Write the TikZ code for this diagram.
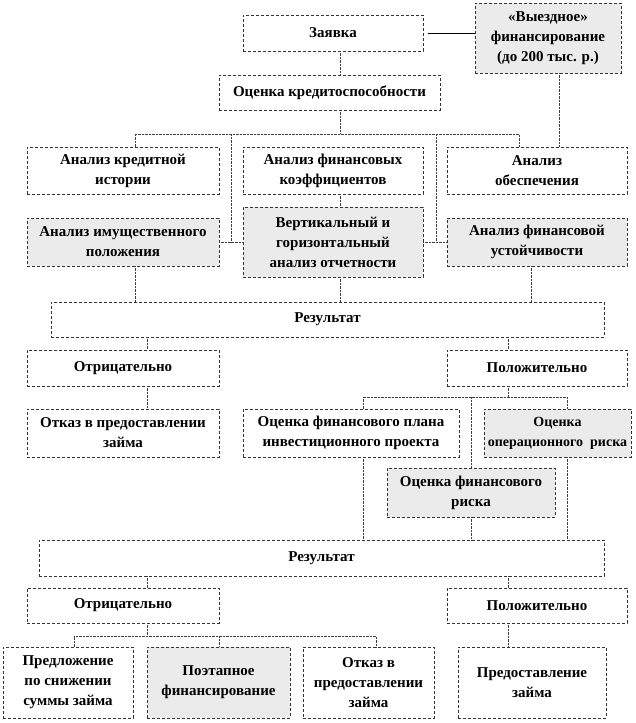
\documentclass[tikz,border=0pt]{standalone}
\usepackage{fontspec}
\setmainfont{Liberation Serif}
\usepackage{tikz}
\usetikzlibrary{positioning,calc}

\begin{document}
\begin{tikzpicture}[x=1pt,y=-1pt,
    blk/.style={draw=black!80, densely dashed, fill=white, align=center, inner sep=1pt,
        font=\fontsize{15}{20}\selectfont\bfseries},
    shd/.style={blk, fill=black!8},
    lnk/.style={densely dotted, black!75}]
    \useasboundingbox (0,0) rectangle (635,723);

    % vertical tracks and buses
    \coordinate (xa) at (135,0);  \coordinate (xb) at (231,0);
    \coordinate (xc) at (340,0);  \coordinate (xd) at (436,0);
    \coordinate (xe) at (519,0);  \coordinate (xf) at (559,0);
    \coordinate (xg) at (531,0);  \coordinate (xh) at (147,0);
    \coordinate (xi) at (508,0);  \coordinate (xj) at (363,0);
    \coordinate (xk) at (471,0);  \coordinate (xl) at (567,0);
    \coordinate (xm) at (74,0);   \coordinate (xn) at (219,0);
    \coordinate (xo) at (376,0);
    \coordinate (bus1) at (0,134);
    \coordinate (bus2) at (0,397);
    \coordinate (bus3) at (0,636);

    % first stage
    \node[blk, minimum width=180, minimum height=36] (zayavka) at (333,33) {Заявка};
    \node[shd, minimum width=146, minimum height=70] (vyezd) at (548,38)
        {«Выездное»\\финансирование\\(до 200 тыс. р.)};
    \node[blk, minimum width=221, minimum height=35] (ocenka) at (329.5,92.5) {Оценка кредитоспособности};

    \node[blk, minimum width=192, minimum height=47] (kred) at (123,170.5) {Анализ кредитной\\истории};
    \node[blk, minimum width=180, minimum height=47] (koef) at (333,170.5) {Анализ финансовых\\коэффициентов};
    \node[blk, minimum width=180, minimum height=47] (obesp) at (537,170.5) {Анализ\\обеспечения};

    \node[shd, minimum width=192, minimum height=48] (imush) at (123,242) {Анализ имущественного\\положения};
    \node[shd, minimum width=180, minimum height=70] (vert) at (333,242)
        {Вертикальный и\\горизонтальный\\анализ отчетности};
    \node[shd, minimum width=180, minimum height=48] (ustoy) at (537,242) {Анализ финансовой\\устойчивости};

    \node[blk, minimum width=553, minimum height=35] (rez1) at (327.5,319.5) {Результат};
    \node[blk, minimum width=192, minimum height=36] (otr1) at (123,368) {Отрицательно};
    \node[blk, minimum width=180, minimum height=36] (polo1) at (537,368) {Положительно};

    % second stage
    \node[blk, minimum width=192, minimum height=48] (otkaz1) at (123,433) {Отказ в предоставлении\\займа};
    \node[blk, minimum width=216, minimum height=48] (plan) at (351,433)
        {Оценка финансового плана\\инвестиционного проекта};
    \node[shd, minimum width=147, minimum height=48, font=\fontsize{14}{20}\selectfont\bfseries]
        (oper) at (557.5,433) {Оценка\\операционного~ риска};
    \node[shd, minimum width=168, minimum height=49] (finrisk) at (471,492.5) {Оценка финансового\\риска};

    \node[blk, minimum width=565, minimum height=36] (rez2) at (321.5,558) {Результат};
    \node[blk, minimum width=192, minimum height=35] (otr2) at (123,605.5) {Отрицательно};
    \node[blk, minimum width=180, minimum height=35] (polo2) at (537,605.5) {Положительно};

    \node[blk, minimum width=130, minimum height=71] (snizh) at (68,682.5)
        {Предложение\\по снижении\\суммы займа};
    \node[shd, minimum width=143, minimum height=71] (poet) at (218.5,682.5) {Поэтапное\\финансирование};
    \node[blk, minimum width=131, minimum height=71] (otkaz2) at (368.5,682.5)
        {Отказ в\\предоставлении\\займа};
    \node[blk, minimum width=148, minimum height=71] (predost) at (532,682.5) {Предоставление\\займа};

    % connectors
    \draw ([xshift=5]zayavka.east) -- (vyezd.west |- zayavka.east);
    \draw[lnk] (zayavka.south -| xc) -- (ocenka.north -| xc);
    \draw[lnk] (ocenka.south -| xc) -- (xc |- bus1);
    \draw[lnk] (kred.north -| xa) |- (bus1 -| xe) -- (obesp.north -| xe);
    \draw[lnk] (bus1 -| xb) -- (xb |- imush.east);
    \draw[lnk] (bus1 -| xd) -- (xd |- ustoy.west);
    \draw[lnk] (imush.east) -- (vert.west);
    \draw[lnk] (vert.east) -- (ustoy.west);
    \draw[lnk] (vyezd.south -| xf) -- (obesp.north -| xf);
    \draw[lnk] (koef.south -| xc) -- (vert.north -| xc);
    \foreach \n/\x in {imush/xa, vert/xc, ustoy/xg}
        \draw[lnk] (\n.south -| \x) -- (rez1.north -| \x);

    \draw[lnk] (rez1.south -| xh) -- (otr1.north -| xh);
    \draw[lnk] (rez1.south -| xi) -- (polo1.north -| xi);
    \draw[lnk] (otr1.south -| xh) -- (otkaz1.north -| xh);
    \draw[lnk] (polo1.south -| xi) -- (xi |- bus2);
    \draw[lnk] (plan.north -| xj) |- (bus2 -| xl) -- (oper.north -| xl);
    \draw[lnk] (bus2 -| xk) -- (finrisk.north -| xk);
    \foreach \n/\x in {plan/xj, finrisk/xk, oper/xl}
        \draw[lnk] (\n.south -| \x) -- (rez2.north -| \x);

    \draw[lnk] (rez2.south -| xh) -- (otr2.north -| xh);
    \draw[lnk] (rez2.south -| xi) -- (polo2.north -| xi);
    \draw[lnk] (otr2.south -| xh) -- (xh |- bus3);
    \draw[lnk] (snizh.north -| xm) |- (bus3 -| xo) -- (otkaz2.north -| xo);
    \draw[lnk] (bus3 -| xn) -- (poet.north -| xn);
    \draw[lnk] (polo2.south -| xi) -- (predost.north -| xi);
\end{tikzpicture}
\end{document}
